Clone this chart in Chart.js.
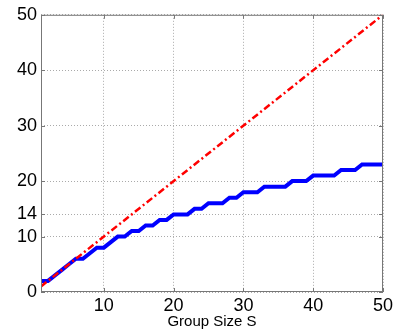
<!DOCTYPE html>
<html><head><meta charset="utf-8">
<script src="https://cdn.jsdelivr.net/npm/chart.js@4/dist/chart.umd.min.js"></script>
<style>html,body{margin:0;padding:0;background:#fff;}#wrap{width:401px;height:332px;}</style>
</head><body><div id="wrap"><canvas id="c" width="401" height="332"></canvas></div>
<script>
const groupSizes = [1,2,3,4,5,6,7,8,9,10,11,12,13,14,15,16,17,18,19,20,21,22,23,24,25,26,27,28,29,30,31,32,33,34,35,36,37,38,39,40,41,42,43,44,45,46,47,48,49,50];
const blueValues = [2,2,3,4,5,6,6,7,8,8,9,10,10,11,11,12,12,13,13,14,14,14,15,15,16,16,16,17,17,18,18,18,19,19,19,19,20,20,20,21,21,21,21,22,22,22,23,23,23,23];
const redX = [1,50];
const redValues = [1,50];
const xTicks = [10,20,30,40,50];
const yTicks = [0,10,14,20,30,40,50];
const xLabel = 'Group Size S';

const boxPlugin = {
  id:'box',
  afterDatasetsDraw(chart){
    const {ctx, chartArea:a, scales} = chart;
    ctx.save();
    ctx.strokeStyle = '#777';
    ctx.lineWidth = 1;
    ctx.setLineDash([]);
    ctx.strokeRect(a.left+0.5, a.top+0.5, a.right-a.left-1, a.bottom-a.top-1);
    ctx.beginPath();
    const tl = 4;
    xTicks.forEach(v=>{const p=Math.round(scales.x.getPixelForValue(v))+0.5; ctx.moveTo(p,a.bottom); ctx.lineTo(p,a.bottom-tl); ctx.moveTo(p,a.top); ctx.lineTo(p,a.top+tl);});
    yTicks.forEach(v=>{const p=Math.round(scales.y.getPixelForValue(v))+0.5; ctx.moveTo(a.left,p); ctx.lineTo(a.left+tl,p); ctx.moveTo(a.right,p); ctx.lineTo(a.right-tl,p);});
    ctx.stroke();
    ctx.restore();
  }
};

new Chart(document.getElementById('c'), {
  type:'line',
  data:{
    datasets:[
      {data: redX.map((x,i)=>({x, y: redValues[i]})), borderColor:'#ff0000', borderWidth:2.5, borderDash:[7,3,2,3], pointRadius:0, tension:0, fill:false, order:0},
      {data: groupSizes.map((x,i)=>({x, y: blueValues[i]})), borderColor:'#0000ff', borderWidth:4, pointRadius:0, tension:0, fill:false, order:1}
    ]
  },
  options:{
    responsive:false, animation:false, devicePixelRatio:1,
    layout:{padding:{left:0, right:18, top:12, bottom:0}},
    plugins:{legend:{display:false}, tooltip:{enabled:false}},
    scales:{
      x:{type:'linear', min:1, max:50,
        afterBuildTicks(s){ s.ticks = xTicks.map(v=>({value:v})); },
        afterFit(s){ s.height = 40; },
        ticks:{color:'#000', font:{family:'Liberation Sans, Arial', size:18}, padding:3, maxRotation:0, autoSkip:false},
        grid:{color:'#aaa', lineWidth:1, drawTicks:false},
        border:{display:false, dash:[1,2]},
        title:{display:true, text:xLabel, color:'#000', font:{family:'Liberation Sans, Arial', size:15}, padding:{top:0,bottom:1}}
      },
      y:{type:'linear', min:0, max:50,
        afterBuildTicks(s){ s.ticks = yTicks.map(v=>({value:v})); },
        afterFit(s){ s.width = 41; },
        ticks:{color:'#000', font:{family:'Liberation Sans, Arial', size:18}, padding:4, autoSkip:false},
        grid:{color:'#aaa', lineWidth:1, drawTicks:false},
        border:{display:false, dash:[1,2]}
      }
    }
  },
  plugins:[boxPlugin]
});
</script></body></html>
